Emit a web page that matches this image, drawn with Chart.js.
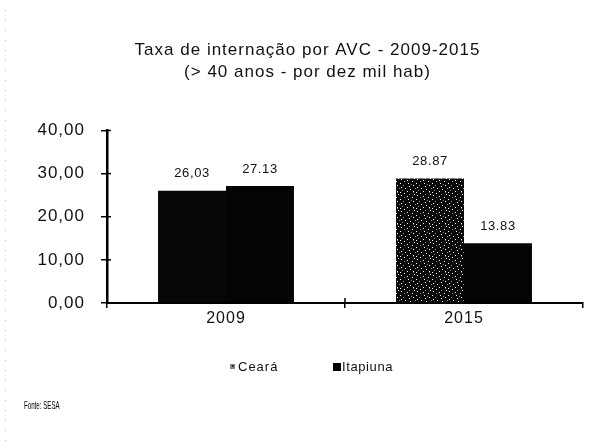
<!DOCTYPE html>
<html>
<head>
<meta charset="utf-8">
<script src="https://cdn.jsdelivr.net/npm/chart.js@4.4.1/dist/chart.umd.min.js"></script>
<style>
  html, body { margin: 0; padding: 0; background: #ffffff; }
  #wrap { position: relative; width: 605px; height: 442px; }
  canvas { display: block; }
</style>
</head>
<body>
<div id="wrap"><canvas id="c" width="605" height="442"></canvas></div>
<script>
// ---- data ----
const categories = ['2009', '2015'];
const seriesNames = ['Ceará', 'Itapiuna'];
const cearaValues = [26.03, 28.87];
const itapiunaValues = [27.13, 13.83];
const cearaValueLabels = ['26,03', '28.87'];
const itapiunaValueLabels = ['27.13', '13.83'];
const yTickLabels = ['0,00', '10,00', '20,00', '30,00', '40,00'];
const titleLines = ['Taxa de internação por AVC - 2009-2015', '(> 40 anos - por dez mil hab)'];
const sourceText = 'Fonte: SESA';

const FONT = "'Liberation Sans', Arial, Helvetica, sans-serif";

// stipple pattern for Ceará 2015 (fixed bitmap, '1' = white speck, '2' = grey speck)
const stippleRows = [
  '1000000000000200',
  '0000100000000000',
  '0000000002000010',
  '0100000000000000',
  '0000000100000000',
  '0000200000001000',
  '0000000000000000',
  '1000000010000000',
  '0000000000020000',
  '0002000000000100',
  '0000000001000000',
  '0100000000000000',
  '0000010000000002',
  '0000000000100000',
  '0020000000000000',
  '0000000100000100'
];
function makeStipple() {
  const pc = document.createElement('canvas');
  pc.width = 16; pc.height = 16;
  const p = pc.getContext('2d');
  p.fillStyle = '#080808';
  p.fillRect(0, 0, 16, 16);
  stippleRows.forEach((row, y) => {
    for (let x = 0; x < row.length; x++) {
      if (row[x] === '1') { p.fillStyle = '#ffffff'; p.fillRect(x, y, 1, 1); }
      if (row[x] === '2') { p.fillStyle = '#8a8a8a'; p.fillRect(x, y, 1, 1); }
    }
  });
  return document.getElementById('c').getContext('2d').createPattern(pc, 'repeat');
}
const stipple = makeStipple();
const seriesColors = [['#060606', stipple], '#040404'];
const valueLabelSets = [cearaValueLabels, itapiunaValueLabels];

const extrasPlugin = {
  id: 'extras',
  beforeDraw(chart) {
    chart.ctx.letterSpacing = '1px';
  },
  afterDatasetsDraw(chart) {
    const ctx = chart.ctx;
    ctx.save();
    ctx.letterSpacing = '0.6px';
    ctx.font = '13px ' + FONT;
    ctx.fillStyle = '#111';
    ctx.textAlign = 'center';
    ctx.textBaseline = 'middle';
    chart.data.datasets.forEach((ds, i) => {
      const meta = chart.getDatasetMeta(i);
      meta.data.forEach((bar, j) => {
        ctx.fillText(valueLabelSets[i][j], bar.x, bar.y - 17);
      });
    });
    ctx.restore();
  },
  afterDraw(chart) {
    const ctx = chart.ctx;
    const area = chart.chartArea;
    const ys = chart.scales.y;
    const xs = chart.scales.x;
    ctx.save();
    // inner part of the crossing tick marks
    ctx.strokeStyle = '#000';
    ctx.lineWidth = 1.5;
    ys.ticks.forEach((t) => {
      const y = ys.getPixelForValue(t.value);
      ctx.beginPath(); ctx.moveTo(area.left, y); ctx.lineTo(area.left + 4, y); ctx.stroke();
    });
    const midX = (xs.getPixelForValue(0) + xs.getPixelForValue(1)) / 2;
    ctx.beginPath(); ctx.moveTo(midX, area.bottom); ctx.lineTo(midX, area.bottom - 5); ctx.stroke();

    // legend
    ctx.letterSpacing = '1px';
    ctx.font = '13px ' + FONT;
    ctx.textBaseline = 'middle';
    ctx.textAlign = 'left';
    const ly = 367;
    ctx.fillStyle = '#888';
    ctx.fillRect(230, ly - 3, 5, 5);
    ctx.fillStyle = '#333';
    ctx.fillRect(232, ly - 2, 2, 2);
    ctx.fillStyle = '#111';
    ctx.fillText(chart.data.datasets[0].label, 238, ly);
    ctx.fillStyle = '#000';
    ctx.fillRect(333, ly - 4, 8, 8);
    ctx.fillStyle = '#111';
    ctx.letterSpacing = '0.6px';
    ctx.fillText(chart.data.datasets[1].label, 342, ly);

    // source (condensed)
    ctx.letterSpacing = '0px';
    ctx.font = '11px ' + FONT;
    ctx.fillStyle = '#000';
    ctx.translate(24, 406);
    ctx.scale(0.56, 1);
    ctx.fillText(sourceText, 0, 0);
    ctx.setTransform(1, 0, 0, 1, 0, 0);

    // faint dotted margin
    ctx.strokeStyle = '#bbbbbb';
    ctx.lineWidth = 1;
    ctx.setLineDash([1, 9]);
    ctx.beginPath(); ctx.moveTo(5.5, 10); ctx.lineTo(5.5, 442); ctx.stroke();
    ctx.restore();
  }
};

new Chart(document.getElementById('c'), {
  type: 'bar',
  data: {
    labels: categories,
    datasets: [
      { label: seriesNames[0], data: cearaValues, backgroundColor: seriesColors[0], borderWidth: 0,
        categoryPercentage: 0.571, barPercentage: 1.0 },
      { label: seriesNames[1], data: itapiunaValues, backgroundColor: seriesColors[1], borderWidth: 0,
        categoryPercentage: 0.571, barPercentage: 1.0 }
    ]
  },
  options: {
    responsive: false,
    animation: false,
    layout: { padding: { left: 32, right: 22, top: 0, bottom: 0 } },
    plugins: {
      legend: { display: false },
      tooltip: { enabled: false },
      title: {
        display: true,
        text: titleLines,
        color: '#111',
        font: { family: FONT, size: 17, weight: 'normal', lineHeight: 1.25 },
        padding: { top: 40, bottom: 48 }
      }
    },
    scales: {
      x: {
        afterFit(scale) { scale.height = 139; },
        grid: { display: true, drawOnChartArea: false, drawTicks: true, tickLength: 5, color: '#000', lineWidth: 1.5, offset: true },
        border: { display: true, color: '#000', width: 2 },
        ticks: { color: '#111', font: { family: FONT, size: 16 }, padding: 1 }
      },
      y: {
        min: 0, max: 40,
        afterFit(scale) { scale.width = 75; },
        grid: { display: true, drawOnChartArea: false, drawTicks: true, tickLength: 6, color: '#000', lineWidth: 1.5 },
        border: { display: true, color: '#000', width: 2.5 },
        ticks: {
          stepSize: 10, color: '#111', font: { family: FONT, size: 17 }, padding: 16,
          callback: (v, i) => yTickLabels[i]
        }
      }
    }
  },
  plugins: [extrasPlugin]
});
</script>
</body>
</html>
